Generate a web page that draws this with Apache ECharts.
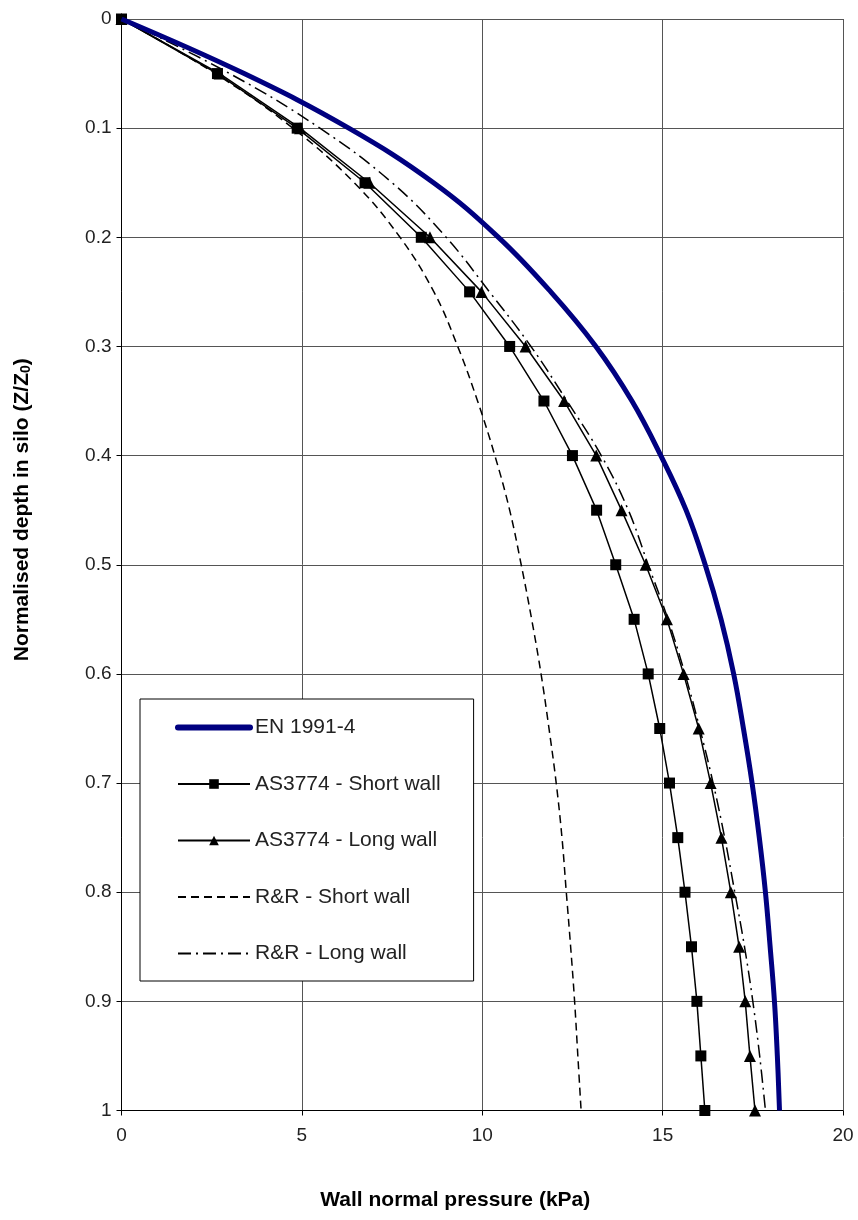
<!DOCTYPE html>
<html>
<head>
<meta charset="utf-8">
<script src="https://cdn.jsdelivr.net/npm/echarts@6/dist/echarts.min.js"></script>
<style>
  html, body { margin: 0; padding: 0; background: #fff; }
  #chart { width: 858px; height: 1220px; }
</style>
</head>
<body>
<div id="chart"></div>
<script>
// Normalised depth Z/Z0 (y values shared by all series)
const depth = [0, 0.05, 0.1, 0.15, 0.2, 0.25, 0.3, 0.35, 0.4, 0.45, 0.5,
               0.55, 0.6, 0.65, 0.7, 0.75, 0.8, 0.85, 0.9, 0.95, 1.0];

// Wall normal pressure (kPa)
const en19914 = [0, 3.4, 6.3, 8.65, 10.45, 11.9, 13.15, 14.15, 14.95, 15.65, 16.18,
                 16.62, 16.97, 17.24, 17.48, 17.68, 17.85, 17.98, 18.1, 18.18, 18.24];
const asShort = [0, 2.66, 4.87, 6.75, 8.31, 9.65, 10.76, 11.71, 12.5, 13.17, 13.7,
                 14.21, 14.6, 14.92, 15.19, 15.42, 15.62, 15.8, 15.95, 16.06, 16.17];
const asLong  = [0, 2.72, 4.95, 6.87, 8.55, 9.98, 11.2, 12.27, 13.16, 13.86, 14.53,
                 15.12, 15.58, 16.0, 16.33, 16.63, 16.89, 17.12, 17.29, 17.42, 17.56];
const rrShort = [0, 2.6, 4.75, 6.45, 7.72, 8.66, 9.32, 9.87, 10.35, 10.76, 11.08,
                 11.37, 11.63, 11.85, 12.05, 12.21, 12.33, 12.45, 12.56, 12.65, 12.74];
const rrLong  = [0, 3.0, 5.5, 7.5, 9.0, 10.2, 11.35, 12.35, 13.3, 14.05, 14.6,
                 15.15, 15.62, 16.03, 16.4, 16.72, 17.0, 17.27, 17.5, 17.69, 17.85];

const seriesNames = ['EN 1991-4', 'AS3774 - Short wall', 'AS3774 - Long wall',
                     'R&R - Short wall', 'R&R - Long wall'];
const xTickLabels = ['0', '5', '10', '15', '20'];
const yTickLabels = ['0', '0.1', '0.2', '0.3', '0.4', '0.5', '0.6', '0.7', '0.8', '0.9', '1'];

const pair = arr => arr.map((v, i) => [v, depth[i]]);
const FONT = '"Liberation Sans", Arial, sans-serif';

const chart = echarts.init(document.getElementById('chart'), null, { renderer: 'canvas' });
chart.setOption({
  animation: false,
  backgroundColor: '#fff',
  textStyle: { fontFamily: FONT },
  grid: { left: 121.5, right: 15, top: 19, bottom: 109.5, containLabel: false },
  xAxis: {
    type: 'value', min: 0, max: 20, interval: 5,
    axisLine: { show: true, onZero: false, lineStyle: { color: '#000', width: 1 } },
    axisTick: { show: true, inside: false, length: 5, lineStyle: { color: '#000' } },
    axisLabel: { color: '#222', fontSize: 19, margin: 16, fontFamily: FONT,
      formatter: v => xTickLabels[Math.round(v / 5)] },
    splitLine: { show: true, lineStyle: { color: '#555', width: 1 } },
    name: 'Wall normal pressure (kPa)',
    nameLocation: 'middle', nameGap: 79,
    nameTextStyle: { fontSize: 21, fontWeight: 'bold', color: '#000', fontFamily: FONT,
      padding: [0, 54, 0, 0] }
  },
  yAxis: {
    type: 'value', inverse: true, min: 0, max: 1, interval: 0.1,
    axisLine: { show: true, onZero: false, lineStyle: { color: '#000', width: 1 } },
    axisTick: { show: true, inside: false, length: 5, lineStyle: { color: '#000' } },
    axisLabel: { color: '#222', fontSize: 19, margin: 10, fontFamily: FONT,
      formatter: v => yTickLabels[Math.round(v * 10)] },
    splitLine: { show: true, lineStyle: { color: '#555', width: 1 } },
    name: '{t|Normalised depth in silo (Z/Z}{s|0}{t|)}',
    nameLocation: 'middle', nameGap: 88, nameRotate: 90,
    nameTextStyle: {
      padding: [0, 0, 0, 110],
      rich: {
        t: { fontSize: 21, fontWeight: 'bold', color: '#000', fontFamily: FONT },
        s: { fontSize: 14, fontWeight: 'bold', color: '#000', fontFamily: FONT, padding: [9, 0, 0, 0] }
      }
    }
  },
  legend: {
    orient: 'vertical', left: 140, top: 699,
    padding: [18, 33, 17, 35],
    itemWidth: 72, itemHeight: 12, itemGap: 35.5,
    backgroundColor: '#fff', borderColor: '#000', borderWidth: 1,
    textStyle: { fontSize: 21, color: '#222', fontFamily: FONT },
    data: [
      { name: seriesNames[0], itemStyle: { opacity: 0 }, lineStyle: { width: 6, cap: 'round' } },
      { name: seriesNames[1] },
      { name: seriesNames[2] },
      { name: seriesNames[3], itemStyle: { opacity: 0 } },
      { name: seriesNames[4], itemStyle: { opacity: 0 } }
    ]
  },
  series: [
    { name: seriesNames[0], type: 'line', data: pair(en19914), smooth: 0.4,
      symbol: 'none', lineStyle: { color: '#000080', width: 5 }, itemStyle: { color: '#000080' }, z: 5 },
    { name: seriesNames[1], type: 'line', data: pair(asShort), smooth: false,
      symbol: 'rect', symbolSize: 11, showAllSymbol: true,
      lineStyle: { color: '#000', width: 1.5 }, itemStyle: { color: '#000' }, z: 4 },
    { name: seriesNames[2], type: 'line', data: pair(asLong), smooth: false,
      symbol: 'triangle', symbolSize: 12, showAllSymbol: true,
      lineStyle: { color: '#000', width: 1.5 }, itemStyle: { color: '#000' }, z: 3 },
    { name: seriesNames[3], type: 'line', data: pair(rrShort), smooth: 0.4,
      symbol: 'none', lineStyle: { color: '#000', width: 1.5, type: [8, 5] }, itemStyle: { color: '#000' }, z: 2 },
    { name: seriesNames[4], type: 'line', data: pair(rrLong), smooth: 0.4,
      symbol: 'none', lineStyle: { color: '#000', width: 1.5, type: [13, 5, 2, 5] }, itemStyle: { color: '#000' }, z: 2 }
  ]
});
</script>
</body>
</html>
